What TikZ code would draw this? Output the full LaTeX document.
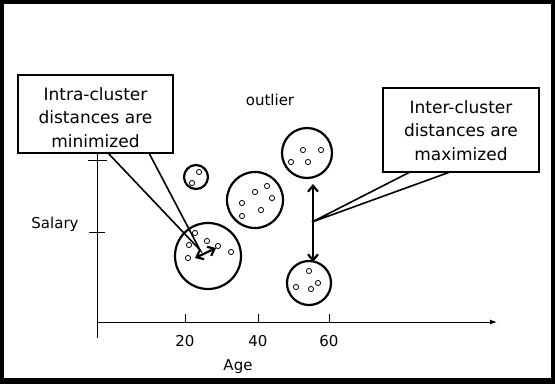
\documentclass[tikz,border=0pt]{standalone}
\usepackage{fontspec}
\setmainfont{DejaVu Sans}
\usetikzlibrary{arrows.meta}
\begin{document}
\begin{tikzpicture}[x=1pt,y=-1pt,
  cluster/.style={circle,draw,line width=2.2pt,inner sep=0pt},
  pt/.style={draw,line width=0.8pt},
  callout/.style={draw,line width=2pt,fill=white,inner sep=0pt},
  calltext/.style={align=center,font=\fontsize{17}{23.5}\selectfont,inner sep=0pt},
  lbl/.style={font=\fontsize{15}{18}\selectfont,inner sep=0pt,anchor=base},
  axis/.style={line width=1pt},
  wedge/.style={line width=1.6pt,line join=miter},
  dbl/.style={line width=2.2pt,{Straight Barb[length=6pt,width=10pt,line width=2.2pt]}-{Straight Barb[length=6pt,width=10pt,line width=2.2pt]}}
]
\useasboundingbox (0,0) rectangle (555,384);
% frame
\fill[black] (0,0) rectangle (555,384);
\fill[white] (4,4) rectangle (551,378);

% axes
\coordinate (o) at (97,322);
\coordinate (ytop) at (97,153);
\coordinate (ybot) at (97,338);
\coordinate (xend) at (497,322);
\draw[axis] (ytop) -- (ybot);
\draw[axis,-{Latex[length=7pt,width=5pt]}] (o) -- (xend);
\draw[axis] (88,160) -- (107,160);
\draw[axis] (89,232) -- (105,232);
\foreach \x/\t in {185/20,258/40,329/60}{
  \draw[axis] (\x,314) -- (\x,322);
  \node[lbl] at (\x,346) {\t};
}
\node[lbl] (age) at (238,370) {Age};
\node[lbl] (salary) at (55,228) {Salary};
\node[lbl] (outlier) at (270,105) {outlier};

% clusters
\node[cluster,minimum size=24pt] (c1) at (196,177) {};
\node[cluster,minimum size=56pt] (c2) at (255,200) {};
\node[cluster,minimum size=66pt] (c3) at (208,256) {};
\node[cluster,minimum size=50pt] (c4) at (307,153) {};
\node[cluster,minimum size=44pt] (c5) at (309,283) {};

\foreach \p in {(199,172),(192,183),
  (255,192),(267,186),(272,198),(242,203),(261,210),(242,216),
  (195,233),(189,245),(207,241),(218,246),(231,252),(188,258),
  (303,150),(321,150),(291,162),(308,162),
  (309,271),(318,283),(296,287),(311,289)}{
  \draw[pt] \p circle (2.6pt);
}

% arrows
\coordinate (ia) at (195,258);
\coordinate (ib) at (216,248);
\draw[dbl] (ia) -- (ib);
\coordinate (va) at (313,184);
\coordinate (vb) at (313,262);
\draw[dbl] (va) -- (vb);

% callouts
\node[callout,minimum width=155pt,minimum height=78pt] (intra) at (95.5,114) {};
\node[calltext] (intratext) at (95.5,117.5) {Intra-cluster\\distances are\\minimized};
\coordinate (iw1) at (108,153);
\coordinate (iw2) at (149,153);
\coordinate (itip) at (200,250);
\draw[wedge] (iw1) -- (itip) -- (iw2);

\node[callout,minimum width=156pt,minimum height=84pt] (inter) at (461,130) {};
\node[calltext] (intertext) at (461,130.5) {Inter-cluster\\distances are\\maximized};
\coordinate (ew1) at (410,172);
\coordinate (ew2) at (450,172);
\coordinate (etip) at (312,222);
\draw[wedge] (ew1) -- (etip) -- (ew2);
\end{tikzpicture}
\end{document}
